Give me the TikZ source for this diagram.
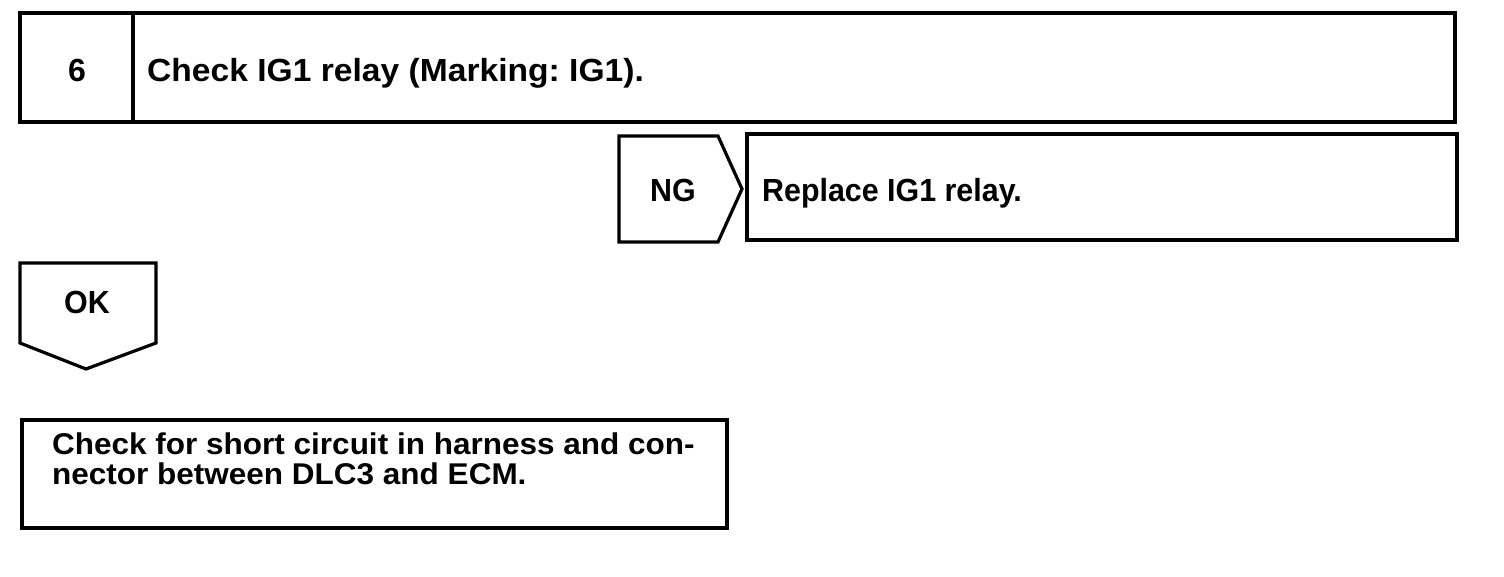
\documentclass[tikz,border=0pt]{standalone}
\usepackage{fontspec}
\setmainfont{Liberation Sans}
\frenchspacing
\begin{document}
\begin{tikzpicture}[x=1pt,y=-1pt,
  frame/.style={draw=black,line width=3.2pt,line join=miter},
  lbl/.style={inner sep=0pt,font=\fontsize{32}{28}\selectfont\bfseries,align=left},
  lblsm/.style={inner sep=0pt,font=\fontsize{30}{29.5}\selectfont\bfseries,align=left}]
\useasboundingbox (0,0) rectangle (1504,576);
% step 6 box
\draw[frame] (20,13) rectangle (1455,122);
\draw[frame] (133,13) -- (133,122);
\node[lbl,anchor=base] (num) at (77,81) {6};
\node[lbl,anchor=base west] (title) at (147,81) {\scalebox{1.05}[1]{Check IG1 relay (Marking: IG1).}};
% NG arrow
\draw[frame] (619,136) -- (718,136) -- (742,189) -- (718,242) -- (619,242) -- cycle;
\node[lbl,anchor=base] (ng) at (673,201) {\scalebox{0.95}[1]{NG}};
\draw[frame] (747,134) rectangle (1457,240);
\node[lbl,anchor=base west] (repl) at (762,201) {\scalebox{0.95}[1]{Replace IG1 relay.}};
% OK arrow
\draw[frame] (20,263) -- (156,263) -- (156,343) -- (86,369) -- (20,343) -- cycle;
\node[lbl,anchor=base] (ok) at (87,313) {\scalebox{0.95}[1]{OK}};
% bottom box
\draw[frame] (22,420) rectangle (727,528);
\node[lblsm,anchor=north west] (chk) at (52,433) {\scalebox{1.05}[1]{Check for short circuit in harness and con-}\\\scalebox{1.05}[1]{nector between DLC3 and ECM.}};
\end{tikzpicture}
\end{document}
